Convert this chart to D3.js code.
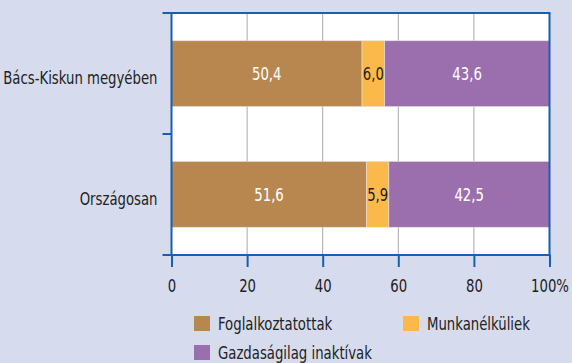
<!DOCTYPE html>
<html>
<head>
<meta charset="utf-8">
<script src="https://cdn.jsdelivr.net/npm/d3@7"></script>
<style>
  html, body { margin: 0; padding: 0; background: #d6dcee; }
  svg { display: block; }
  text { font-family: "DejaVu Sans Condensed", "Liberation Sans Narrow", "Roboto", sans-serif; }
</style>
</head>
<body>
<svg id="chart" width="572" height="363"></svg>
<script>
// Labour-market status shares (%)
const categories = ["Bács-Kiskun megyében", "Országosan"];
const seriesNames = ["Foglalkoztatottak", "Munkanélküliek", "Gazdaságilag inaktívak"];
const employed   = [50.4, 51.6];
const unemployed = [6.0, 5.9];
const inactive   = [43.6, 42.5];
const xTicks = [0, 20, 40, 60, 80, 100];

const colors = ["#b8874f", "#fbb94c", "#9b6fae"];
const labelColors = ["#ffffff", "#222222", "#ffffff"];
const axisBlue = "#1560b0";
const FS = 18;          // font size
const SX = 0.82;        // horizontal squeeze for a condensed look

const svg = d3.select("#chart");
const margin = { left: 171.5, right: 22.5, top: 13, bottom: 108 };
const W = 572, H = 363;
const plotW = W - margin.left - margin.right;
const plotH = H - margin.top - margin.bottom;

const x = d3.scaleLinear().domain([0, 100]).range([margin.left, margin.left + plotW]);
const y = d3.scaleBand().domain(categories).range([margin.top, margin.top + plotH]).paddingInner(0.455).paddingOuter(0.23);

// places a condensed text at (px, py)
function squeeze(sel, px, py) {
  sel.attr("transform", (d, i) => `translate(${px(d, i)},${py(d, i)}) scale(${SX},1)`);
}

// plot background
svg.append("rect")
  .attr("x", x(0)).attr("y", margin.top)
  .attr("width", x(100) - x(0)).attr("height", plotH)
  .attr("fill", "#ffffff");

// vertical gridlines
svg.append("g").selectAll("line")
  .data(xTicks.filter(t => t > 0 && t < 100))
  .join("line")
  .attr("x1", d => x(d)).attr("x2", d => x(d))
  .attr("y1", margin.top).attr("y2", margin.top + plotH)
  .attr("stroke", "#a8a8a8").attr("stroke-width", 1);

// stacked segments
const table = categories.map((c, i) => ({ cat: c, vals: [employed[i], unemployed[i], inactive[i]] }));
table.forEach(row => {
  let acc = 0;
  row.segs = row.vals.map((v, k) => {
    const s = { k, v, x0: acc, x1: acc + v, cat: row.cat };
    acc += v;
    return s;
  });
});
const segs = table.flatMap(r => r.segs);

svg.append("g").selectAll("rect")
  .data(segs)
  .join("rect")
  .attr("x", d => x(d.x0))
  .attr("y", d => y(d.cat))
  .attr("width", d => x(d.x1) - x(d.x0))
  .attr("height", y.bandwidth())
  .attr("fill", d => colors[d.k])
  .attr("stroke", "#e8e0d8").attr("stroke-width", 0.6);

svg.append("g").selectAll("text")
  .data(segs)
  .join("text")
  .call(squeeze, d => (x(d.x0) + x(d.x1)) / 2, d => y(d.cat) + y.bandwidth() / 2)
  .attr("dy", "0.36em")
  .attr("text-anchor", "middle")
  .attr("font-size", FS)
  .attr("fill", d => labelColors[d.k])
  .text(d => d.v.toFixed(1).replace(".", ","));

// frame: top and right borders
svg.append("line")
  .attr("x1", x(0) - 9).attr("x2", x(100) + 1)
  .attr("y1", margin.top).attr("y2", margin.top)
  .attr("stroke", axisBlue).attr("stroke-width", 2);
svg.append("line")
  .attr("x1", x(100)).attr("x2", x(100))
  .attr("y1", margin.top).attr("y2", margin.top + plotH)
  .attr("stroke", axisBlue).attr("stroke-width", 2);

// x axis
const xAxis = svg.append("g")
  .attr("transform", `translate(0,${margin.top + plotH})`)
  .call(d3.axisBottom(x).tickValues(xTicks).tickSize(12).tickPadding(12)
    .tickFormat(d => d === 100 ? "100%" : String(d)));
xAxis.select(".domain").remove();
xAxis.selectAll(".tick line").attr("stroke", axisBlue).attr("stroke-width", 2);
xAxis.selectAll(".tick text")
  .attr("font-size", FS).attr("fill", "#222")
  .attr("transform", `scale(${SX},1)`);
svg.append("line")
  .attr("x1", x(0) - 9).attr("x2", x(100) + 1)
  .attr("y1", margin.top + plotH).attr("y2", margin.top + plotH)
  .attr("stroke", axisBlue).attr("stroke-width", 2);

// y axis
svg.append("line")
  .attr("x1", x(0)).attr("x2", x(0))
  .attr("y1", margin.top).attr("y2", margin.top + plotH)
  .attr("stroke", axisBlue).attr("stroke-width", 2);
const midY = margin.top + plotH / 2;
svg.append("line")
  .attr("x1", x(0) - 9).attr("x2", x(0))
  .attr("y1", midY).attr("y2", midY)
  .attr("stroke", axisBlue).attr("stroke-width", 2);

svg.append("g").selectAll("text")
  .data(categories)
  .join("text")
  .call(squeeze, () => x(0) - 14, d => y(d) + y.bandwidth() / 2)
  .attr("dy", "0.58em")
  .attr("text-anchor", "end")
  .attr("font-size", FS)
  .attr("fill", "#222")
  .text(d => d);

// legend
const legendPos = [[194, 316], [403, 316], [194, 345]];
const lg = svg.append("g").selectAll("g")
  .data(seriesNames)
  .join("g")
  .attr("transform", (d, i) => `translate(${legendPos[i][0]},${legendPos[i][1]})`);
lg.append("rect").attr("width", 16).attr("height", 15).attr("fill", (d, i) => colors[i]);
lg.append("text")
  .call(squeeze, () => 24, () => 7.5)
  .attr("dy", "0.38em")
  .attr("font-size", FS).attr("fill", "#222")
  .text(d => d);
</script>
</body>
</html>
